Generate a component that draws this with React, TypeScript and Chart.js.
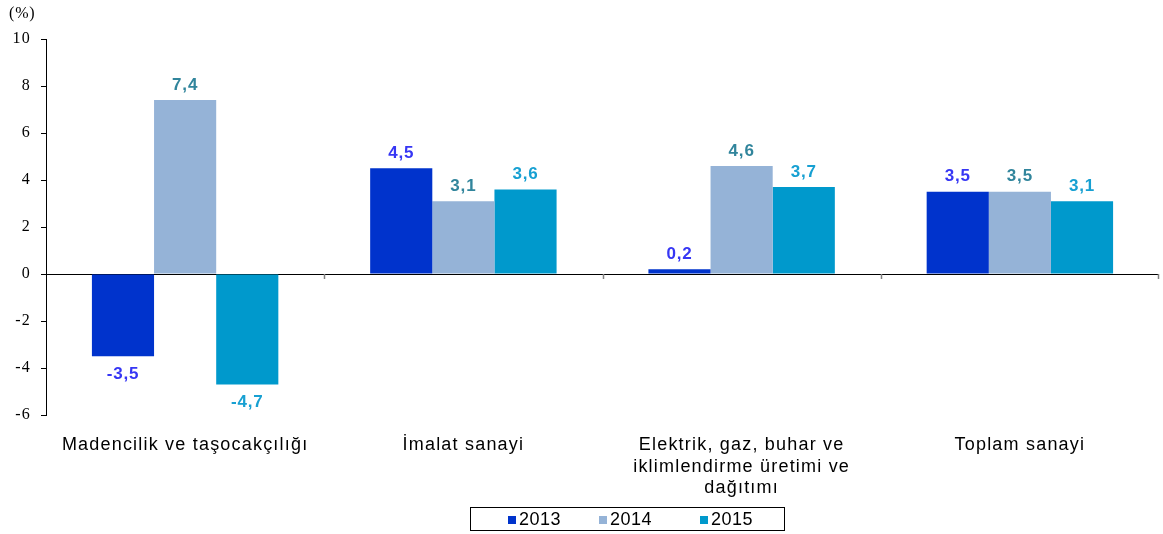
import React, { useEffect, useRef } from "react";
import { Chart, registerables } from "chart.js";

Chart.register(...registerables);

const categories: (string | string[])[] = [
  "Madencilik ve taşocakçılığı",
  "İmalat sanayi",
  ["Elektrik, gaz, buhar ve", "iklimlendirme üretimi ve", "dağıtımı"],
  "Toplam sanayi",
];
const years = ["2013", "2014", "2015"];
const values2013 = [-3.5, 4.5, 0.2, 3.5];
const values2014 = [7.4, 3.1, 4.6, 3.5];
const values2015 = [-4.7, 3.6, 3.7, 3.1];
const barColors = ["#0033CC", "#95B3D7", "#0099CC"];
const labelColors = ["#3636F4", "#31859C", "#17A0D2"];
const yMin = -6;
const yMax = 10;
const yStep = 2;
const unitLabel = "(%)";

const fmt = (v: number) => v.toFixed(1).replace(".", ",");

const spacingPlugin = {
  id: "spacing",
  beforeDraw(chart: any) {
    (chart.ctx as any).letterSpacing = "1.2px";
  },
  beforeDatasetsDraw(chart: any) {
    (chart.ctx as any).letterSpacing = "0px";
  },
};

const zeroTicksPlugin = {
  id: "zeroTicks",
  afterDatasetsDraw(chart: any) {
    const ctx = chart.ctx;
    const xs = chart.scales.x;
    const ys = chart.scales.y;
    const y0 = ys.getPixelForValue(0);
    const n = categories.length;
    ctx.save();
    ctx.strokeStyle = "#808080";
    ctx.lineWidth = 1.5;
    for (let i = 1; i <= n; i++) {
      const x = i < n
        ? (xs.getPixelForValue(i - 1) + xs.getPixelForValue(i)) / 2
        : xs.right - 1;
      ctx.beginPath();
      ctx.moveTo(Math.round(x) + 0.5, y0);
      ctx.lineTo(Math.round(x) + 0.5, y0 + 5);
      ctx.stroke();
    }
    ctx.restore();
  },
};

const valueLabelPlugin = {
  id: "valueLabels",
  afterDatasetsDraw(chart: any) {
    const ctx = chart.ctx;
    ctx.save();
    (ctx as any).letterSpacing = "0.8px";
    ctx.font = "bold 17px 'Liberation Sans', Arial, sans-serif";
    ctx.textAlign = "center";
    ctx.textBaseline = "middle";
    chart.data.datasets.forEach((ds: any, di: number) => {
      const meta = chart.getDatasetMeta(di);
      meta.data.forEach((bar: any, i: number) => {
        const v = ds.data[i] as number;
        ctx.fillStyle = labelColors[di];
        const y = v >= 0 ? bar.y - 15 : bar.y + 18;
        ctx.fillText(fmt(v), bar.x, y);
      });
    });
    ctx.restore();
  },
};

export default function App() {
  const canvasRef = useRef<HTMLCanvasElement | null>(null);

  useEffect(() => {
    if (!canvasRef.current) return;
    const seriesValues = [values2013, values2014, values2015];
    const chart = new Chart(canvasRef.current, {
      type: "bar",
      data: {
        labels: categories as any,
        datasets: years.map((y, i) => ({
          label: y,
          data: seriesValues[i],
          backgroundColor: barColors[i],
          borderWidth: 0,
          categoryPercentage: 0.67,
          barPercentage: 1,
        })),
      },
      options: {
        animation: false,
        responsive: true,
        maintainAspectRatio: false,
        layout: { padding: { top: 39, right: 4, left: 0, bottom: 0 } },
        plugins: {
          legend: { display: false },
          tooltip: { enabled: false },
        },
        scales: {
          x: {
            grid: { display: false, drawTicks: false },
            border: { display: false },
            ticks: {
              color: "#000",
              padding: 20,
              maxRotation: 0,
              autoSkip: false,
              font: { family: "'Liberation Sans', Arial, sans-serif", size: 18, lineHeight: 1.17 },
            },
            afterFit: (scale: any) => {
              scale.height = 119;
            },
          },
          y: {
            min: yMin,
            max: yMax,
            border: { display: true, color: "#000", width: 1 },
            grid: {
              color: (c: any) => (c.tick && c.tick.value === 0 ? "#000" : "rgba(0,0,0,0)"),
              tickColor: "#000",
              tickLength: 5,
              lineWidth: 1,
            },
            ticks: {
              stepSize: yStep,
              color: "#000",
              padding: 10,
              font: { family: "'Liberation Serif', 'Times New Roman', serif", size: 16 },
              callback: (v: any) => String(v),
            },
            afterFit: (scale: any) => {
              scale.width = 46;
            },
          },
        },
      },
      plugins: [spacingPlugin, zeroTicksPlugin, valueLabelPlugin],
    });
    return () => chart.destroy();
  }, []);

  const legendPos = [37, 128, 229];

  return (
    <div style={{ position: "fixed", left: 0, top: 0, width: 1163, height: 534, background: "#fff" }}>
      <canvas ref={canvasRef} />
      <div
        style={{
          position: "absolute",
          left: 9,
          top: 4,
          fontFamily: "'Liberation Serif', 'Times New Roman', serif",
          fontSize: 16,
          letterSpacing: "0.8px",
          color: "#000",
        }}
      >
        {unitLabel}
      </div>
      <div
        style={{
          position: "absolute",
          left: 470,
          top: 507,
          width: 315,
          height: 24,
          border: "1px solid #000",
          boxSizing: "border-box",
          fontFamily: "'Liberation Sans', Arial, sans-serif",
          fontSize: 18,
          color: "#000",
        }}
      >
        {years.map((y, i) => (
          <div
            key={y}
            style={{
              position: "absolute",
              left: legendPos[i],
              top: 1,
              height: 21,
              display: "flex",
              alignItems: "center",
              letterSpacing: "0.5px",
            }}
          >
            <span style={{ display: "inline-block", width: 8, height: 8, background: barColors[i], marginRight: 3 }} />
            <span>{y}</span>
          </div>
        ))}
      </div>
    </div>
  );
}
